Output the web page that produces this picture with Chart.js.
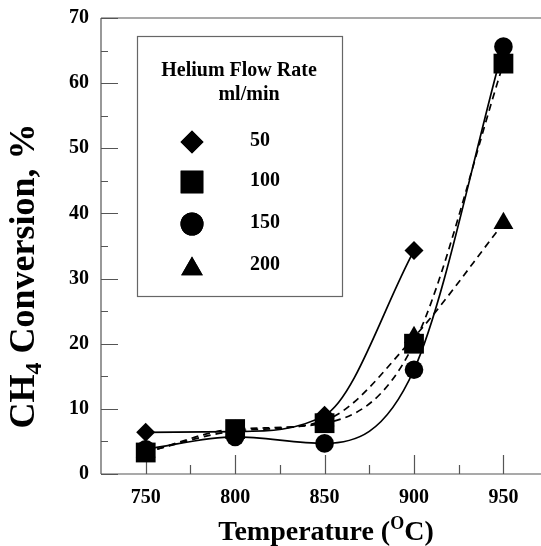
<!DOCTYPE html>
<html><head><meta charset="utf-8">
<script src="https://cdn.jsdelivr.net/npm/chart.js@4/dist/chart.umd.min.js"></script>
<style>html,body{margin:0;padding:0;background:#fff;overflow:hidden}#wrap{width:541px;height:546px;position:relative}</style>
</head><body><div id="wrap"><canvas id="c" width="541" height="546"></canvas></div>
<script>
// ---- data ----
const temperatures = [750, 800, 850, 900, 950];
const flow50  = [6.4, 6.5, 9.0, 34.3, null];
const flow100 = [3.3, 6.9, 7.8, 20.0, 63.0];
const flow150 = [3.8, 5.7, 4.7, 16.0, 65.6];
const flow200 = [3.4, 6.6, 8.2, 21.0, 38.5];
const seriesLabels = ['50', '100', '150', '200'];
const xTickValues = [750, 800, 850, 900, 950];
const xMinorTickValues = [775, 825, 875, 925];
const yTickValues = [0, 10, 20, 30, 40, 50, 60, 70];
const yMinorTickValues = [5, 15, 25, 35, 45, 55, 65];
const legendTitle = ['Helium Flow Rate', 'ml/min'];
const xTitle = ['Temperature (', 'O', 'C)'];
const yTitle = ['CH', '4', ' Conversion, %'];

const SERIF = '"Liberation Serif", "Times New Roman", serif';
const styles = [
  {shape: 'rectRot', r: 9.5, legR: 11.5, dash: []},
  {shape: 'rect', r: 14, legR: 16, dash: [7, 5]},
  {shape: 'circle', r: 9.3, legR: 11.5, dash: []},
  {shape: 'triangle', r: 11.5, legR: 12.5, dash: [7, 5]}
];
const allSeries = [flow50, flow100, flow150, flow200];

function pts(arr) {
  const out = [];
  temperatures.forEach((t, i) => { if (arr[i] !== null) out.push({x: t, y: arr[i]}); });
  return out;
}

const datasets = [];
allSeries.forEach((arr, k) => {
  datasets.push({
    label: seriesLabels[k], data: pts(arr), showLine: false,
    pointStyle: styles[k].shape, pointRadius: styles[k].r,
    pointBackgroundColor: '#000', pointBorderColor: '#000', pointBorderWidth: 0,
    order: 0
  });
});
allSeries.forEach((arr, k) => {
  datasets.push({
    label: seriesLabels[k] + ' fit', data: pts(arr), showLine: true,
    pointRadius: 0, borderColor: '#000', borderWidth: 1.7,
    borderDash: styles[k].dash, cubicInterpolationMode: 'monotone',
    fill: false, order: 1
  });
});

const framePlugin = {
  id: 'frame',
  beforeDatasetsDraw(chart) {
    const {ctx, chartArea: a, scales: {x, y}} = chart;
    ctx.save();
    ctx.strokeStyle = '#555';
    ctx.lineWidth = 1.2;
    ctx.beginPath();
    ctx.moveTo(a.left, a.top); ctx.lineTo(a.right, a.top);
    ctx.moveTo(a.left, a.top); ctx.lineTo(a.left, a.bottom);
    ctx.moveTo(a.left, a.bottom); ctx.lineTo(a.right, a.bottom);
    xTickValues.forEach(v => { const px = Math.round(x.getPixelForValue(v)) + 0.5; ctx.moveTo(px, a.bottom); ctx.lineTo(px, a.bottom - 19); });
    xMinorTickValues.forEach(v => { const px = Math.round(x.getPixelForValue(v)) + 0.5; ctx.moveTo(px, a.bottom); ctx.lineTo(px, a.bottom - 9); });
    yTickValues.forEach(v => { const py = Math.round(y.getPixelForValue(v)) + 0.5; ctx.moveTo(a.left, py); ctx.lineTo(a.left + 17, py); });
    yMinorTickValues.forEach(v => { const py = Math.round(y.getPixelForValue(v)) + 0.5; ctx.moveTo(a.left, py); ctx.lineTo(a.left + 7, py); });
    ctx.stroke();
    ctx.restore();
  },
  afterDraw(chart) {
    const {ctx} = chart;
    ctx.save();
    ctx.fillStyle = '#000';
    // x title
    const big = 'bold 28px ' + SERIF, small = 'bold 18px ' + SERIF;
    ctx.font = big; const w1 = ctx.measureText(xTitle[0]).width;
    const w3 = ctx.measureText(xTitle[2]).width;
    ctx.font = small; const w2 = ctx.measureText(xTitle[1]).width;
    let xs = 326 - (w1 + w2 + w3) / 2, base = 540;
    ctx.textBaseline = 'alphabetic'; ctx.textAlign = 'left';
    ctx.font = big; ctx.fillText(xTitle[0], xs, base);
    ctx.font = small; ctx.fillText(xTitle[1], xs + w1, base - 11);
    ctx.font = big; ctx.fillText(xTitle[2], xs + w1 + w2, base);
    // y title
    const ybig = 'bold 36px ' + SERIF, ysmall = 'bold 24px ' + SERIF;
    ctx.save();
    ctx.translate(34, 276);
    ctx.rotate(-Math.PI / 2);
    ctx.font = ybig; const v1 = ctx.measureText(yTitle[0]).width, v3 = ctx.measureText(yTitle[2]).width;
    ctx.font = ysmall; const v2 = ctx.measureText(yTitle[1]).width;
    let ys = -(v1 + v2 + v3) / 2;
    ctx.font = ybig; ctx.fillText(yTitle[0], ys, 0);
    ctx.font = ysmall; ctx.fillText(yTitle[1], ys + v1, 7);
    ctx.font = ybig; ctx.fillText(yTitle[2], ys + v1 + v2, 0);
    ctx.restore();
    // legend box
    ctx.strokeStyle = '#666'; ctx.lineWidth = 1.2;
    ctx.strokeRect(137.5, 36.5, 205, 260);
    ctx.font = 'bold 20px ' + SERIF;
    ctx.textBaseline = 'middle';
    ctx.textAlign = 'center';
    ctx.fillText(legendTitle[0], 239, 71);
    ctx.fillText(legendTitle[1], 249, 95);
    ctx.textAlign = 'left';
    const rowY = [142, 182, 224, 266];
    styles.forEach((s, k) => {
      const my = k === 3 ? rowY[k] + 3 : rowY[k];
      Chart.helpers.drawPoint(ctx, {pointStyle: s.shape, radius: s.legR, rotation: 0, borderWidth: 0}, 192, my);
      ctx.fill();
      ctx.fillText(seriesLabels[k], 250, rowY[k] - 1);
    });
    ctx.restore();
  }
};

new Chart(document.getElementById('c'), {
  type: 'line',
  data: {datasets},
  plugins: [framePlugin],
  options: {
    responsive: false, animation: false, devicePixelRatio: 1,
    layout: {autoPadding: false, padding: {top: 18, right: 0, left: 0, bottom: 0}},
    plugins: {legend: {display: false}, tooltip: {enabled: false}},
    scales: {
      x: {
        type: 'linear', min: 725, max: 971,
        afterBuildTicks: s => { s.ticks = xTickValues.map(v => ({value: v})); },
        afterFit: s => { s.height = 72; s.paddingLeft = 0; s.paddingRight = 0; },
        grid: {display: false, drawTicks: false}, border: {display: false},
        ticks: {color: '#000', font: {family: SERIF, size: 20, weight: 'bold'}, padding: 12, maxRotation: 0}
      },
      y: {
        type: 'linear', min: 0, max: 70,
        afterBuildTicks: s => { s.ticks = yTickValues.map(v => ({value: v})); },
        afterFit: s => { s.width = 101; s.paddingTop = 0; s.paddingBottom = 0; },
        grid: {display: false, drawTicks: false}, border: {display: false},
        ticks: {color: '#000', font: {family: SERIF, size: 20, weight: 'bold'}, padding: 12}
      }
    }
  }
});
</script></body></html>
